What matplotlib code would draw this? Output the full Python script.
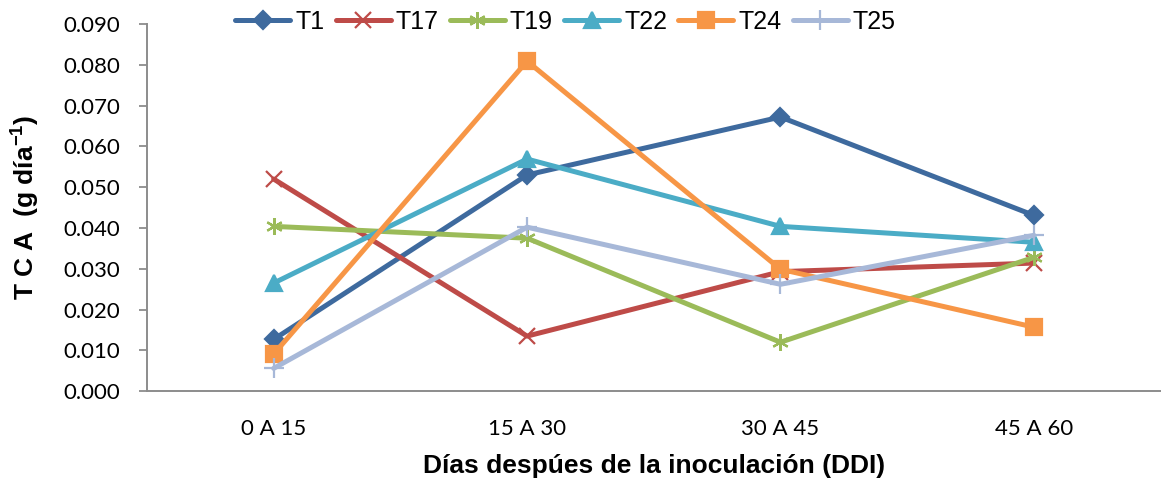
import matplotlib.pyplot as plt
from matplotlib.ticker import FormatStrFormatter

plt.rcParams['font.family'] = ['Liberation Sans', 'DejaVu Sans']

# periods after inoculation
periods = ["0 A 15", "15 A 30", "30 A 45", "45 A 60"]

# absolute growth rate (g/day) per treatment
t1 = [0.0127, 0.0530, 0.0672, 0.0431]
t17 = [0.0520, 0.0135, 0.0293, 0.0314]
t19 = [0.0404, 0.0375, 0.0120, 0.0328]
t22 = [0.0265, 0.0569, 0.0404, 0.0365]
t24 = [0.0091, 0.0809, 0.0299, 0.0157]
t25 = [0.0056, 0.0402, 0.0262, 0.0382]

series = [
    ("T1", t1, "#3E6A9E", "D", 9),
    ("T17", t17, "#BE4B48", "x", 11),
    ("T19", t19, "#9BBB59", (6, 2, 0), 12),
    ("T22", t22, "#4BACC6", "^", 11),
    ("T24", t24, "#F79646", "s", 11),
    ("T25", t25, "#A7B8D8", "+", 14),
]

tick_font = ['Lato', 'DejaVu Sans']

fig = plt.figure(figsize=(11.61, 4.80), dpi=100)
ax = fig.add_axes([0.1266, 0.185, 0.873, 0.765])

x = range(len(periods))
for name, vals, color, marker, ms in series:
    ax.plot(x, vals, color=color, lw=3.6, marker=marker, markersize=ms,
            markeredgewidth=1.6, markeredgecolor=color, markerfacecolor=color,
            label=name, solid_capstyle="round", clip_on=False)

ax.set_xlim(-0.5, 3.5)
ax.set_ylim(0, 0.09)
ax.set_yticks([i * 0.01 for i in range(10)])
ax.yaxis.set_major_formatter(FormatStrFormatter("%.3f"))
ax.set_xticks(list(x))
ax.set_xticklabels(periods)

for side in ("top", "right"):
    ax.spines[side].set_visible(False)
for side in ("left", "bottom"):
    ax.spines[side].set_color("#8C8C8C")
    ax.spines[side].set_linewidth(1.4)
ax.tick_params(axis="y", length=6, width=1.3, color="#8C8C8C", labelsize=16, pad=13)
ax.tick_params(axis="x", length=0, labelsize=16, pad=20)
for lbl in ax.get_xticklabels() + ax.get_yticklabels():
    lbl.set_family(tick_font)

ax.set_ylabel("T C A  (g día$^{\\mathregular{-1}}$)", fontsize=19, fontweight="bold", labelpad=16)
ax.set_xlabel("Días despúes de la inoculación (DDI)", fontsize=19, fontweight="bold", labelpad=11)

ax.legend(loc="center", bbox_to_anchor=(0.413, 1.005), ncol=6, frameon=False,
          fontsize=18, handlelength=2.2, handletextpad=0.2, columnspacing=0.45,
          borderaxespad=0)

fig.savefig("out.png", dpi=100)
